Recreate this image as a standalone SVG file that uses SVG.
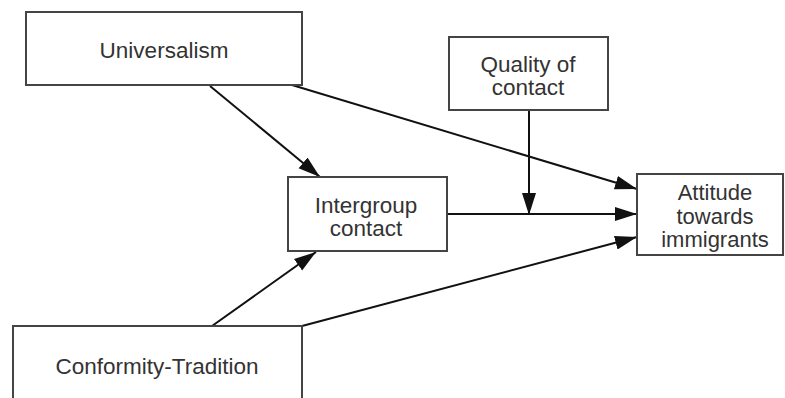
<svg xmlns="http://www.w3.org/2000/svg" width="785" height="398" viewBox="0 0 785 398">
<style>
.box{fill:#fff;stroke:#444;stroke-width:2}
.t{font-family:"Liberation Sans",Arial,sans-serif;font-size:22.5px;fill:#333;text-anchor:middle}
.s{font-size:22px}
.c{stroke:#111;stroke-width:2;fill:none}
</style>
<defs>
<marker id="ah" markerUnits="userSpaceOnUse" markerWidth="24" markerHeight="16" refX="22" refY="7" orient="auto" viewBox="0 0 24 14">
<path d="M0,0 L22,7 L0,14 Z" fill="#111"/>
</marker>
</defs>
<rect width="785" height="398" fill="#fff"/>
<g id="connectors">
<line class="c" x1="210" y1="86" x2="320" y2="177" marker-end="url(#ah)"/>
<line class="c" x1="292" y1="85" x2="637" y2="189" marker-end="url(#ah)"/>
<line class="c" x1="447" y1="214" x2="637" y2="214" marker-end="url(#ah)"/>
<line class="c" x1="529" y1="110" x2="529" y2="215" marker-end="url(#ah)"/>
<line class="c" x1="212" y1="326" x2="316" y2="252" marker-end="url(#ah)"/>
<line class="c" x1="302" y1="326" x2="637" y2="237" marker-end="url(#ah)"/>
</g>
<g id="universalism">
<rect class="box" x="26" y="12" width="276" height="73"/>
<text class="t" x="164" y="58">Universalism</text>
</g>
<g id="quality">
<rect class="box" x="449" y="37" width="159" height="73"/>
<text class="t" x="528" y="72">Quality of</text>
<text class="t" x="528" y="95">contact</text>
</g>
<g id="intergroup">
<rect class="box" x="288" y="177" width="159" height="74"/>
<text class="t" x="366" y="213">Intergroup</text>
<text class="t" x="366" y="236">contact</text>
</g>
<g id="attitude">
<rect class="box" x="637" y="174" width="146" height="81"/>
<text class="t s" x="715" y="200">Attitude</text>
<text class="t s" x="715" y="223.5">towards</text>
<text class="t s" x="715" y="247">immigrants</text>
</g>
<g id="conformity">
<rect class="box" x="13" y="326" width="289" height="80"/>
<text class="t" x="157" y="374">Conformity-Tradition</text>
</g>
</svg>
